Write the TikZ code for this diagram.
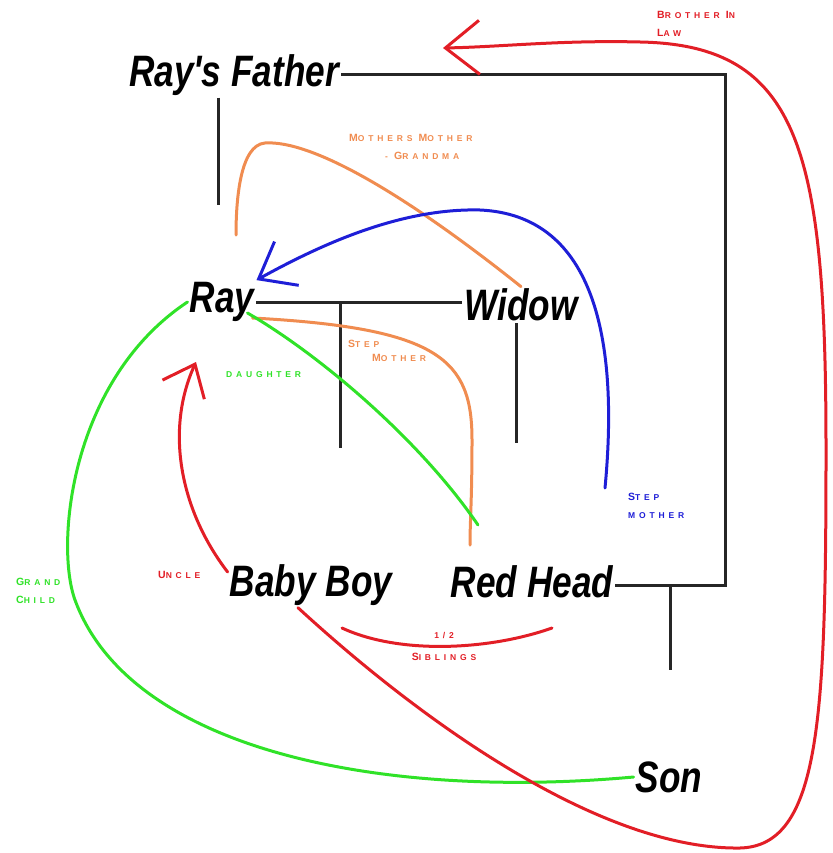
\documentclass[tikz,border=0pt]{standalone}
\usepackage{fontspec}
\usepackage{tikz}
\usetikzlibrary{arrows.meta}
\newfontfamily\personfont[FakeStretch=0.8]{Liberation Sans}
\newfontfamily\tagfont[LetterSpace=45]{Liberation Sans}
\definecolor{relred}{RGB}{226,30,38}
\definecolor{relgreen}{RGB}{48,226,40}
\definecolor{relorange}{RGB}{240,140,80}
\definecolor{relblue}{RGB}{30,30,215}
\newcommand\capword[2]{{\fontsize{10.5}{18}\selectfont #1}#2}

\begin{document}
\begin{tikzpicture}[x=1pt, y=-1pt,
    person/.style={
      font=\personfont\bfseries\itshape\fontsize{44}{50}\selectfont,
      inner sep=2pt
    },
    famline/.style={line width=3pt, black!85},
    rel/.style={line width=3pt, line cap=round},
    tag/.style={
      font=\tagfont\bfseries\fontsize{8.5}{18}\selectfont,
      align=left, inner sep=0pt, anchor=north west
    }
  ]
  \useasboundingbox (0,0) rectangle (832,853);

  % people
  \node[person] (rayfather) at (234,75) {Ray's Father};
  \node[person] (ray) at (222,302) {Ray};
  \node[person] (widow) at (521,305) {Widow};
  \node[person] (babyboy) at (311,585) {Baby Boy};
  \node[person] (redhead) at (532,582) {Red Head};
  \node[person] (son) at (669,777) {Son};

  % free ends
  \coordinate (rcorner) at (725,585);
  \coordinate (rfdrop) at (218,205);
  \coordinate (kids) at (340,448);
  \coordinate (wdrop) at (516,443);
  \coordinate (rhdrop) at (670,670);
  \coordinate (gmaend) at (236,235);
  \coordinate (smend) at (470,545);
  \coordinate (dauend) at (478,525);
  \coordinate (bluestart) at (605,488);
  \coordinate (uncletip) at (196,362);
  \coordinate (sibl) at (342,628);
  \coordinate (sibr) at (552,628);
  \coordinate (biltip) at (443,48);

  % family tree
  \draw[famline] (rayfather.east) -| (rcorner) -- (rcorner -| redhead.east);
  \draw[famline] (rayfather.south -| rfdrop) -- (rfdrop);
  \draw[famline] (ray.east) -- (ray.east -| widow.west);
  \draw[famline] (kids |- ray.east) -- (kids);
  \draw[famline] (widow.south -| wdrop) -- (wdrop);
  \draw[famline] (rhdrop |- rcorner) -- (rhdrop);

  % relations
  \draw[rel, relorange] (widow.north) .. controls (400,190) and (310,140) .. (265,143)
    .. controls (240,145) and (236,200) .. (gmaend);
  \draw[rel, relorange] ([xshift=-4pt, yshift=-16pt]ray.east) .. controls (440,328) and (472,360) .. (472,440)
    .. controls (472,500) and (470,520) .. (smend);
  \draw[rel, relgreen] ([xshift=-9pt, yshift=-11pt]ray.east) .. controls (320,355) and (420,440) .. (dauend);
  \draw[rel, relblue, -{Straight Barb[length=32pt, width=50pt]}] (bluestart) .. controls (620,330) and (590,215) .. (480,210)
    .. controls (400,208) and (320,245) .. (ray.north east);
  \draw[rel, relred, -{Straight Barb[length=28pt, width=46pt]}] ([yshift=13pt]babyboy.west) .. controls (180,510) and (165,430) .. (uncletip);
  \draw[rel, relred] (sibl) .. controls (400,655) and (490,650) .. (sibr);
  \draw[rel, relgreen] (son.west) .. controls (380,800) and (130,750) .. (75,600)
    .. controls (55,545) and (70,380) .. (ray.west);
  \draw[rel, relred, -{Straight Barb[length=34pt, width=54pt]}] ([xshift=-13pt]babyboy.south)
    .. controls (420,720) and (600,850) .. (740,848)
    .. controls (820,846) and (826,720) .. (826,450)
    .. controls (826,150) and (800,45) .. (640,42)
    .. controls (560,40) and (500,47) .. (biltip);

  % labels
  \node[tag, text=relred] (tagbil) at (657,11) {\capword{B}{ROTHER} \capword{I}{N}\\\capword{L}{AW}};
  \node[tag, text=relorange] (taggma) at (349,134) {\capword{M}{OTHERS} \capword{M}{OTHER}\\\hspace{36pt}- \capword{G}{RANDMA}};
  \node[tag, text=relorange] (tagstep) at (348,340) {\capword{S}{TEP}\\[-4pt]\hspace{24pt}\capword{M}{OTHER}};
  \node[tag, text=relgreen] (tagdau) at (226,371) {DAUGHTER};
  \node[tag, text=relblue] (tagstepb) at (628,493) {\capword{S}{TEP}\\MOTHER};
  \node[tag, text=relred] (taguncle) at (158,571) {\capword{U}{NCLE}};
  \node[tag, text=relgreen] (taggc) at (16,578) {\capword{G}{RAND}\\\capword{C}{HILD}};
  \node[tag, text=relred, align=center, anchor=north] (tagsib) at (444,632) {1/2\\[4pt]\capword{S}{IBLINGS}};
\end{tikzpicture}
\end{document}
